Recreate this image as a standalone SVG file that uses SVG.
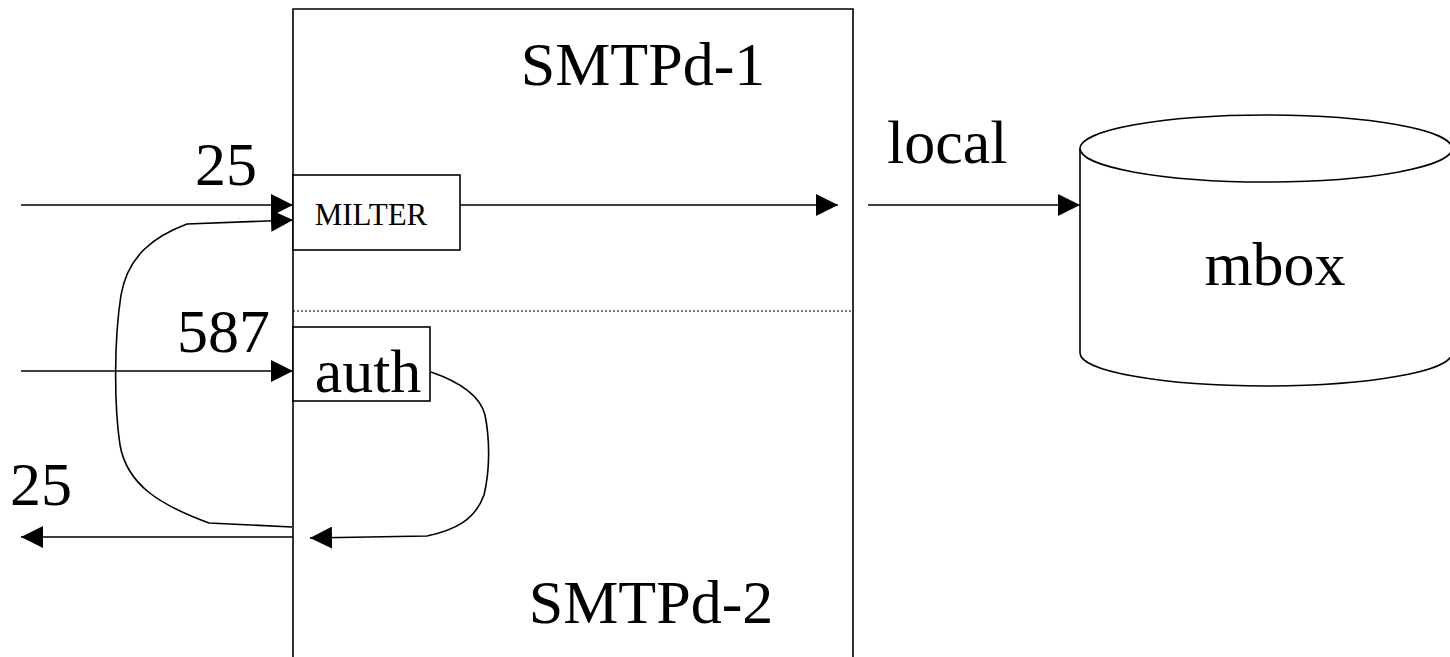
<svg xmlns="http://www.w3.org/2000/svg" width="1450" height="657" viewBox="0 0 1450 657">
<style>
  .ln{fill:none;stroke:#000;stroke-width:1.6}
  .bx{fill:#fff;stroke:#000;stroke-width:1.6}
  .t{font-family:"Liberation Serif","Times New Roman",serif;font-size:62px;fill:#000}
  .ts{font-family:"Liberation Serif","Times New Roman",serif;font-size:31px;fill:#000}
</style>
<defs>
  <marker id="ah" markerUnits="userSpaceOnUse" markerWidth="22" markerHeight="22" viewBox="0 0 20 20" refX="20" refY="10" orient="auto">
    <path d="M0,0 L20,10 L0,20 Z" fill="#000"/>
  </marker>
</defs>
<rect width="1450" height="657" fill="#fff"/>
<g id="smtpd">
  <path class="ln" d="M293,660 L293,9 L853,9 L853,660"/>
  <line x1="293" y1="311" x2="853" y2="311" stroke="#000" stroke-width="1.2" stroke-dasharray="2,2"/>
  <text class="t" x="643" y="85" text-anchor="middle">SMTPd-1</text>
  <text class="t" x="651" y="623" text-anchor="middle">SMTPd-2</text>
</g>
<g id="milter">
  <rect class="bx" x="293" y="175" width="167" height="75"/>
  <text class="ts" x="371" y="225" text-anchor="middle">MILTER</text>
</g>
<g id="auth">
  <rect class="bx" x="293" y="327" width="137" height="74"/>
  <text class="t" x="368" y="392" text-anchor="middle">auth</text>
</g>
<g id="mbox">
  <path class="bx" d="M1080,148 L1080,353 A186,33 0 0 0 1452,353 L1452,148"/>
  <ellipse class="bx" cx="1266" cy="148.5" rx="186" ry="33.5"/>
  <text class="t" x="1275" y="285" text-anchor="middle">mbox</text>
</g>
<g id="connectors">
  <line class="ln" x1="21" y1="205" x2="293" y2="205" marker-end="url(#ah)"/>
  <line class="ln" x1="21" y1="371" x2="293" y2="371" marker-end="url(#ah)"/>
  <line class="ln" x1="460" y1="205" x2="838" y2="205" marker-end="url(#ah)"/>
  <line class="ln" x1="868" y1="205" x2="1080" y2="205" marker-end="url(#ah)"/>
  <line class="ln" x1="293" y1="537" x2="21" y2="537" marker-end="url(#ah)"/>
  <path class="ln" d="M292,527 L209,523 C160,505 127,485 120,445 C114,405 114,340 121,295 C128,255 155,236 187,224 L293,220" marker-end="url(#ah)"/>
  <path class="ln" d="M431,372 C460,382 480,395 485,415 C490,440 490,470 484,495 C475,520 455,530 427,536 L310,538" marker-end="url(#ah)"/>
</g>
<g id="labels">
  <text class="t" x="195" y="185">25</text>
  <text class="t" x="177" y="352">587</text>
  <text class="t" x="10" y="505">25</text>
  <text class="t" x="887" y="163">local</text>
</g>
</svg>
